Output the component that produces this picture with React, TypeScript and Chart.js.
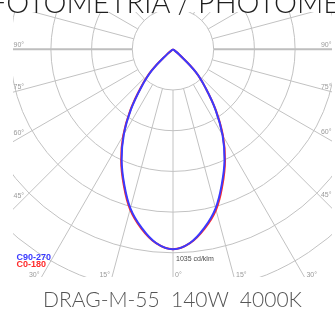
import React, { useEffect, useRef } from "react";
import { Chart, registerables } from "chart.js";

Chart.register(...registerables);

// ---- data (cd/klm) ----
const ANGLES = [0, 5, 10, 15, 20, 25, 30, 35, 40, 45, 50, 55];
const C0 = [1017, 990, 926, 845, 735, 626, 508, 381, 260, 164, 41, 0];
const C180 = [1017, 990, 926, 843, 733, 624, 506, 378, 255, 156, 40, 0];
const C90 = [1017, 989, 921, 837, 727, 620, 504, 379, 259, 163, 41, 0];
const C270 = [1017, 989, 921, 837, 727, 618, 500, 372, 250, 152, 38, 0];

const RING_STEP = 207; // cd/klm per ring
const RING_COUNT = 7;
const GRID_ANGLES = Array.from({ length: 24 }, (_, i) => i * 15);
const LABEL_ANGLES = [-90, -75, -60, -45, -30, -15, 0, 15, 30, 45, 60, 75, 90];
const MAX_LABEL = "1035 cd/klm";
const LEGEND_LABELS = ["C90-270", "C0-180"];
const LEGEND_COLORS = ["#3a3aff", "#ff2a2a"];
const TITLE = "FOTOMETRIA / PHOTOMETRY";
const SUBTITLE = "DRAG-M-55  140W  4000K";

// ---- layout (pixels) ----
const W = 335;
const H = 309;
const AREA = { left: 13, top: 12, right: 332, bottom: 277 };
const CENTER = { x: 173, y: 49.3 };
const PX_PER_RING = 40.7;
const CD_PER_PX = RING_STEP / PX_PER_RING;

function toXY(angles: number[], values: number[], side: number) {
  return angles.map((a, i) => {
    const t = (a * Math.PI) / 180;
    return { x: side * values[i] * Math.sin(t), y: -values[i] * Math.cos(t) };
  });
}

function curve(left: number[], right: number[]) {
  const l = toXY(ANGLES, left, -1).reverse();
  const r = toXY(ANGLES, right, 1).slice(1);
  return [...l, ...r];
}

const polarGrid = {
  id: "polarGrid",
  beforeDatasetsDraw(chart: any) {
    const { ctx, chartArea, scales } = chart;
    const xs = scales.x;
    const ys = scales.y;
    const cx = xs.getPixelForValue(0);
    const cy = ys.getPixelForValue(0);
    const ringPx = xs.getPixelForValue(RING_STEP) - cx;
    ctx.save();
    ctx.beginPath();
    ctx.rect(chartArea.left, chartArea.top, chartArea.right - chartArea.left, chartArea.bottom - chartArea.top);
    ctx.clip();
    ctx.strokeStyle = "#c2c2c2";
    ctx.lineWidth = 1;
    for (let k = 1; k <= RING_COUNT; k++) {
      ctx.beginPath();
      ctx.arc(cx, cy, k * ringPx, 0, Math.PI * 2);
      ctx.stroke();
    }
    GRID_ANGLES.forEach((a) => {
      const t = (a * Math.PI) / 180;
      const dx = Math.sin(t);
      const dy = Math.cos(t);
      ctx.beginPath();
      ctx.lineWidth = a === 90 || a === 270 ? 2 : 1;
      ctx.strokeStyle = a === 90 || a === 270 ? "#bebebe" : "#c2c2c2";
      ctx.moveTo(cx + dx * ringPx, cy + dy * ringPx);
      ctx.lineTo(cx + dx * 800, cy + dy * 800);
      ctx.stroke();
    });
    ctx.restore();

    // angle labels
    ctx.save();
    ctx.font = "7px 'Liberation Sans', Arial, sans-serif";
    ctx.fillStyle = "#9a9a9a";
    ctx.textBaseline = "alphabetic";
    LABEL_ANGLES.forEach((a) => {
      const text = Math.abs(a) + "°";
      const tw = ctx.measureText(text).width;
      const t = (Math.abs(a) * Math.PI) / 180;
      if (Math.abs(a) >= 45) {
        if (a < 0) {
          const xl = chartArea.left;
          const xe = xl + tw;
          const yl = cy + (cx - xe) / Math.tan(t || 1e-9);
          ctx.textAlign = "left";
          ctx.fillText(text, xl + 0.5, (Math.abs(a) === 90 ? cy - 2 : yl) - 0.5);
        } else {
          const xr = chartArea.right;
          const xe = xr - tw;
          const yl = cy + (xe - cx) / Math.tan(t);
          ctx.textAlign = "right";
          ctx.fillText(text, xr - 0.5, (a === 90 ? cy - 2 : yl) - 0.5);
        }
      } else {
        const xb = cx + (chartArea.bottom - cy) * Math.tan((a * Math.PI) / 180);
        if (a < 0) {
          ctx.textAlign = "right";
          ctx.fillText(text, xb - 2, chartArea.bottom - 0.5);
        } else {
          ctx.textAlign = "left";
          ctx.fillText(text, xb + 2, chartArea.bottom - 0.5);
        }
      }
    });
    ctx.restore();
  },
  afterDraw(chart: any) {
    const { ctx, scales } = chart;
    const cx = scales.x.getPixelForValue(0);
    const cy = scales.y.getPixelForValue(0);
    const ringPx = scales.x.getPixelForValue(RING_STEP) - cx;
    ctx.save();
    ctx.font = "7px 'Liberation Sans', Arial, sans-serif";
    ctx.fillStyle = "#4a4a4a";
    ctx.textAlign = "left";
    ctx.textBaseline = "alphabetic";
    ctx.fillText(MAX_LABEL, cx + 3, cy + 5 * ringPx + 8);
    ctx.font = "bold 9px 'Liberation Sans', Arial, sans-serif";
    LEGEND_LABELS.forEach((s, i) => {
      ctx.fillStyle = LEGEND_COLORS[i];
      ctx.fillText(s, 16.5, 259.5 + i * 7);
    });
    ctx.restore();
  },
};

export default function App() {
  const ref = useRef<HTMLCanvasElement | null>(null);
  useEffect(() => {
    if (!ref.current) return;
    const chart = new Chart(ref.current, {
      type: "scatter",
      data: {
        datasets: [
          {
            label: "C90-270",
            data: curve(C270, C90),
            showLine: true,
            borderColor: LEGEND_COLORS[0],
            borderWidth: 2,
            pointRadius: 0,
            tension: 0.4,
            order: 0,
          },
          {
            label: "C0-180",
            data: curve(C180, C0),
            showLine: true,
            borderColor: LEGEND_COLORS[1],
            borderWidth: 2,
            pointRadius: 0,
            tension: 0.4,
            order: 1,
          },
        ],
      },
      options: {
        animation: false,
        responsive: false,
        maintainAspectRatio: false,
        devicePixelRatio: 1,
        layout: {
          padding: { left: AREA.left, top: AREA.top, right: W - AREA.right, bottom: H - AREA.bottom },
        },
        plugins: { legend: { display: false }, tooltip: { enabled: false }, title: { display: false } },
        scales: {
          x: {
            type: "linear",
            display: false,
            min: (AREA.left - CENTER.x) * CD_PER_PX,
            max: (AREA.right - CENTER.x) * CD_PER_PX,
          },
          y: {
            type: "linear",
            display: false,
            min: (CENTER.y - AREA.bottom) * CD_PER_PX,
            max: (CENTER.y - AREA.top) * CD_PER_PX,
          },
        },
      },
      plugins: [polarGrid],
    });
    return () => chart.destroy();
  }, []);

  return (
    <div style={{ position: "fixed", left: 0, top: 0, width: W, height: H, overflow: "hidden", background: "#fff" }}>
      <canvas ref={ref} width={W} height={H} style={{ position: "absolute", left: 0, top: 0, width: W, height: H }} />
      <div
        style={{
          position: "absolute",
          left: -10,
          top: -16.3,
          fontFamily: "Lato, sans-serif",
          fontWeight: 300,
          fontSize: 29,
          lineHeight: "normal",
          color: "#1e1e1e",
          whiteSpace: "pre",
        }}
      >
        {TITLE}
      </div>
      <div
        style={{
          position: "absolute",
          left: 0,
          width: 345,
          top: 286,
          textAlign: "center",
          fontFamily: "Lato, sans-serif",
          fontWeight: 300,
          fontSize: 21,
          lineHeight: "normal",
          color: "#555",
          whiteSpace: "pre",
        }}
      >
        {SUBTITLE}
      </div>
    </div>
  );
}
